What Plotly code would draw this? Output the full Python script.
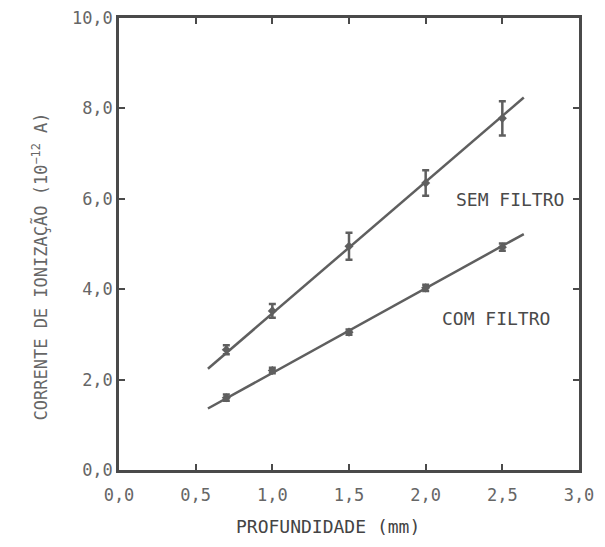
import plotly.graph_objects as go

# Data
depth = [0.7, 1.0, 1.5, 2.0, 2.5]
sem_filtro = [2.66, 3.52, 4.95, 6.35, 7.78]
sem_err = [0.1, 0.15, 0.3, 0.28, 0.38]
com_filtro = [1.6, 2.2, 3.05, 4.03, 4.93]
com_err = [0.07, 0.06, 0.06, 0.07, 0.08]

fit_x = [0.58, 2.64]
sem_fit = [2.24, 8.24]
com_fit = [1.36, 5.22]

x_ticks = [0.0, 0.5, 1.0, 1.5, 2.0, 2.5, 3.0]
x_ticktext = ["0,0", "0,5", "1,0", "1,5", "2,0", "2,5", "3,0"]
y_ticks = [0.0, 2.0, 4.0, 6.0, 8.0, 10.0]
y_ticktext = ["0,0", "2,0", "4,0", "6,0", "8,0", "10,0"]

LINE = "#5f5f5f"
AX = "#4a4a4a"
TXT = "#666666"
FONT = "DejaVu Sans Mono"

fig = go.Figure()

fig.add_trace(go.Scatter(x=fit_x, y=sem_fit, mode="lines",
                         line=dict(color=LINE, width=2.5), showlegend=False))
fig.add_trace(go.Scatter(x=fit_x, y=com_fit, mode="lines",
                         line=dict(color=LINE, width=2.5), showlegend=False))

fig.add_trace(go.Scatter(x=depth, y=sem_filtro, mode="markers",
                         marker=dict(symbol="diamond", size=7, color=LINE),
                         error_y=dict(type="data", array=sem_err, visible=True,
                                      color=LINE, thickness=2.5, width=3.5),
                         showlegend=False))
fig.add_trace(go.Scatter(x=depth, y=com_filtro, mode="markers",
                         marker=dict(symbol="diamond", size=7, color=LINE),
                         error_y=dict(type="data", array=com_err, visible=True,
                                      color=LINE, thickness=2.5, width=3.5),
                         showlegend=False))

fig.add_annotation(x=2.55, y=5.98, text="SEM FILTRO", showarrow=False,
                   xanchor="center", yanchor="middle",
                   font=dict(family=FONT, size=18, color="#4a4a4a"))
fig.add_annotation(x=2.46, y=3.36, text="COM FILTRO", showarrow=False,
                   xanchor="center", yanchor="middle",
                   font=dict(family=FONT, size=18, color="#4a4a4a"))

# Axis titles (placed as in the reference)
fig.add_annotation(xref="paper", yref="paper", x=0.454, y=-0.125,
                   text="PROFUNDIDADE (mm)", showarrow=False,
                   xanchor="center", yanchor="middle",
                   font=dict(family=FONT, size=18, color="#444444"))
fig.add_annotation(xref="paper", yref="paper", x=-0.172, y=0.45,
                   text="CORRENTE DE IONIZAÇÃO (10<sup>−12</sup> A)", showarrow=False,
                   textangle=-90, xanchor="center", yanchor="middle",
                   font=dict(family=FONT, size=17, color="#666666"))

axis_common = dict(showgrid=False, zeroline=False, showline=True, mirror="ticks",
                   linecolor=AX, linewidth=2.5, ticks="inside", ticklen=6,
                   tickwidth=2, tickcolor=AX, ticklabeloverflow="allow",
                   automargin=False,
                   tickfont=dict(family=FONT, size=17, color=TXT))

fig.update_xaxes(range=[0, 3], tickvals=x_ticks, ticktext=x_ticktext,
                 ticklabelstandoff=8, **axis_common)
fig.update_yaxes(range=[0, 10], tickvals=y_ticks, ticktext=y_ticktext,
                 **axis_common)

fig.update_layout(width=605, height=547, plot_bgcolor="white", paper_bgcolor="white",
                  margin=dict(l=111, r=34, t=10, b=85, autoexpand=False))

fig.write_html("out.html")
